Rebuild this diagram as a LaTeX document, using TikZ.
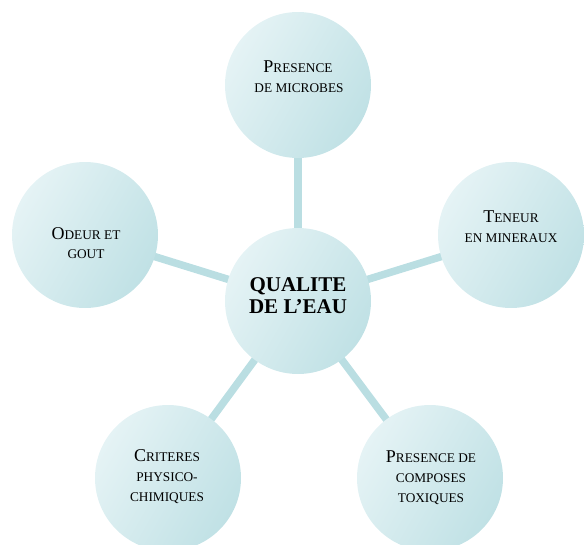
\documentclass[tikz,border=0pt]{standalone}
\usepackage{fontspec}
\setmainfont{Liberation Serif}
\pgfdeclarelayer{bg}
\pgfsetlayers{bg,main}
\definecolor{bublight}{RGB}{229,243,245}
\definecolor{bubdark}{RGB}{192,225,229}
\definecolor{conn}{RGB}{186,222,226}
\newcommand\BigCap[1]{{\fontsize{18}{20}\selectfont #1}}
\newcommand\SmCap[1]{{\fontsize{13.3}{16}\selectfont #1}}
\begin{document}
\begin{tikzpicture}[x=1pt,y=-1pt,
  bubble/.style={circle, minimum size=146pt, inner sep=0pt,
    top color=bublight, bottom color=bubdark, shading angle=60},
  link/.style={line width=7.5pt, draw=conn},
  lbl/.style={anchor=base, inner sep=0pt, text=black},
  ctr/.style={anchor=base, inner sep=0pt, text=black, font=\bfseries\fontsize{21}{24}\selectfont}]
\path[use as bounding box] (0,0) rectangle (584,544);
\node[bubble] (q)  at (298,301) {};
\node[bubble] (pm) at (298,85)  {};
\node[bubble] (tm) at (511,235) {};
\node[bubble] (pc) at (430,478) {};
\node[bubble] (cp) at (168,478) {};
\node[bubble] (og) at (85,235)  {};
\begin{pgfonlayer}{bg}
\draw[link] (q.center) -- (pm.center);
\draw[link] (q.center) -- (tm.center);
\draw[link] (q.center) -- (pc.center);
\draw[link] (q.center) -- (cp.center);
\draw[link] (q.center) -- (og.center);
\end{pgfonlayer}
\node[ctr] (q1) at (298,291) {QUALITE};
\node[ctr] (q2) at (298,313) {DE L’EAU};
\node[lbl] (pm1) at (298,72) {\BigCap{P}\SmCap{RESENCE}};
\node[lbl] (pm2) at (299,92) {\SmCap{DE MICROBES}};
\node[lbl] (tm1) at (511,222) {\BigCap{T}\SmCap{ENEUR}};
\node[lbl] (tm2) at (511,242) {\SmCap{EN MINERAUX}};
\node[lbl] (pc1) at (431,462) {\BigCap{P}\SmCap{RESENCE DE}};
\node[lbl] (pc2) at (431,482) {\SmCap{COMPOSES}};
\node[lbl] (pc3) at (431,502) {\SmCap{TOXIQUES}};
\node[lbl] (cp1) at (167,461) {\BigCap{C}\SmCap{RITERES}};
\node[lbl] (cp2) at (167,481) {\SmCap{PHYSICO-}};
\node[lbl] (cp3) at (167,501) {\SmCap{CHIMIQUES}};
\node[lbl] (og1) at (86,239) {\BigCap{O}\SmCap{DEUR ET}};
\node[lbl] (og2) at (86,258) {\SmCap{GOUT}};
\end{tikzpicture}
\end{document}
